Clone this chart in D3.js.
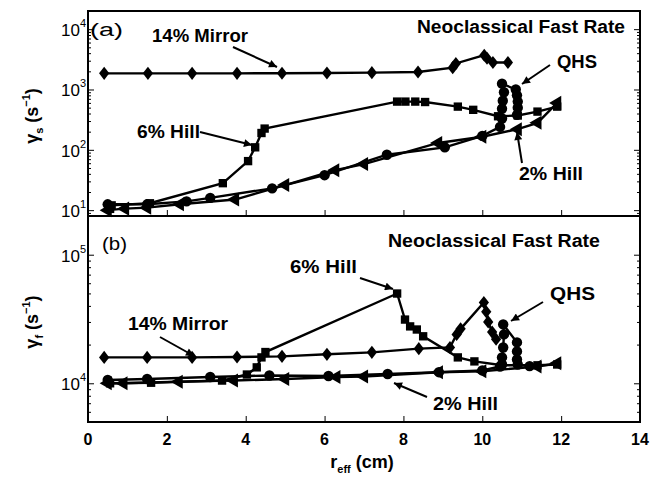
<!DOCTYPE html>
<html>
<head>
<meta charset="utf-8">
<script src="https://d3js.org/d3.v7.min.js"></script>
<style>
  body { margin: 0; background: #fff; }
  text { font-family: "Liberation Sans", Arial, Helvetica, sans-serif; fill: #000; }
</style>
</head>
<body>
<div id="chart"></div>
<script>
// ---- data: r_eff (cm) and rate (1/s) ----
// panel (a): gamma_s
var mirA_r = [0.41, 1.52, 2.64, 3.78, 4.92, 6.06, 7.2, 8.37, 9.25, 9.33, 10.05, 10.12, 10.27, 10.65];
var mirA_g = [1850, 1850, 1850, 1850, 1860, 1880, 1900, 1950, 2300, 2700, 3700, 3300, 2800, 2800];
var hill6A_r = [0.56, 0.6, 1.57, 3.42, 4.06, 4.24, 4.4, 4.48, 7.84, 8.05, 8.3, 8.55, 9.38, 9.77, 10.4, 10.9, 11.4, 11.9];
var hill6A_g = [10.5, 12, 13, 28, 65, 110, 190, 225, 630, 630, 630, 620, 520, 460, 360, 370, 430, 520];
var qhsA_r = [0.5, 1.5, 2.5, 3.1, 4.67, 6.0, 7.58, 9.05, 10.0, 10.45, 10.5, 10.5, 10.52, 10.55, 10.5, 10.85, 10.88, 10.9, 10.9, 10.88];
var qhsA_g = [12.5, 12.5, 14, 16, 23, 38, 83, 110, 170, 240, 330, 480, 650, 900, 1250, 1000, 800, 630, 500, 380];
var hill2A_r = [0.5, 0.94, 1.5, 2.33, 3.73, 5.0, 6.27, 7.0, 8.88, 10.0, 10.9, 11.4, 11.9];
var hill2A_g = [10, 10.6, 11, 12.5, 15, 26, 46, 58, 130, 165, 220, 280, 600];

// panel (b): gamma_f
var mirB_r = [0.41, 1.5, 2.64, 3.78, 4.92, 6.06, 7.2, 8.39, 9.18, 9.35, 9.45, 10.04, 10.1, 10.15, 10.25, 10.35];
var mirB_g = [15900, 15900, 15900, 16000, 16200, 16800, 17400, 18600, 19000, 24000, 26500, 42500, 36000, 30000, 25000, 22000];
var hill6B_r = [0.56, 1.6, 3.4, 4.03, 4.28, 4.4, 4.5, 7.84, 8.04, 8.17, 8.34, 8.5, 9.38, 9.8, 10.5, 11.4, 11.9];
var hill6B_g = [10000, 10100, 10500, 11700, 13300, 15900, 17500, 49900, 31300, 27700, 26200, 23200, 15900, 14800, 13800, 13800, 14000];
var qhsB_r = [0.5, 1.5, 3.1, 4.6, 6.1, 7.6, 8.9, 10.0, 10.45, 10.5, 10.5, 10.53, 10.55, 10.53, 10.88, 10.88, 10.88, 10.9, 11.2];
var qhsB_g = [10600, 10800, 11200, 11500, 11400, 11800, 12200, 12600, 13500, 14000, 15900, 19000, 24000, 28700, 20800, 17700, 15300, 14000, 13600];
var hill2B_r = [0.5, 0.9, 2.3, 3.7, 5.0, 6.3, 7.0, 8.9, 10.0, 11.4, 11.9];
var hill2B_g = [10000, 10000, 10300, 10500, 10800, 11200, 11300, 12200, 12400, 13500, 14300];

var xTicks = [0, 2, 4, 6, 8, 10, 12, 14];
var yTicksA = [10, 100, 1000, 10000];
var yTicksB = [10000, 100000];

var W = 652, H = 480;
var left = 88, right = 640;
var svg = d3.select("#chart").append("svg").attr("width", W).attr("height", H);

var x = d3.scaleLinear().domain([0, 14]).range([left, right]);

// squat diamond like the matlab marker
var diamond = {
  draw: function (ctx, size) {
    var h = Math.sqrt(size) * 0.6, w = h * 0.78;
    ctx.moveTo(0, -h); ctx.lineTo(w, 0); ctx.lineTo(0, h); ctx.lineTo(-w, 0); ctx.closePath();
  }
};

// marker shapes per series
var shapes = {
  mirror: { type: diamond, size: 120, rot: 0 },
  hill6: { type: d3.symbolSquare, size: 70, rot: 0 },
  qhs: { type: d3.symbolCircle, size: 85, rot: 0 },
  hill2: { type: d3.symbolTriangle, size: 85, rot: -90 }
};

function minorTicks(lo, hi) {
  var out = [];
  for (var d = Math.pow(10, Math.floor(Math.log10(lo))); d < hi; d *= 10) {
    for (var k = 2; k <= 9; k++) {
      var v = k * d;
      if (v >= lo && v <= hi) out.push(v);
    }
  }
  return out;
}

function panel(top, bottom, domain, majors, series) {
  var y = d3.scaleLog().domain(domain).range([bottom, top]);
  var g = svg.append("g");

  // lines and markers
  series.forEach(function (s) {
    var pts = s.r.map(function (d, i) { return [d, s.g[i]]; });
    g.append("path")
      .attr("d", d3.line().x(function (d) { return x(d[0]); }).y(function (d) { return y(d[1]); })(pts))
      .attr("fill", "none").attr("stroke", "#000").attr("stroke-width", 2.4);
    var sh = shapes[s.kind];
    g.selectAll(null).data(pts).enter().append("path")
      .attr("d", d3.symbol().type(sh.type).size(sh.size))
      .attr("transform", function (d) { return "translate(" + x(d[0]) + "," + y(d[1]) + ") rotate(" + sh.rot + ")"; })
      .attr("fill", "#000");
  });

  // y axes, ticks pointing inward, left and right
  var minors = minorTicks(domain[0], domain[1]);
  g.append("g").attr("transform", "translate(" + left + ",0)")
    .call(d3.axisLeft(y).tickValues(minors).tickSize(-3).tickFormat(""))
    .call(function (a) { a.select(".domain").remove(); });
  g.append("g").attr("transform", "translate(" + right + ",0)")
    .call(d3.axisRight(y).tickValues(minors).tickSize(-3).tickFormat(""))
    .call(function (a) { a.select(".domain").remove(); });
  g.append("g").attr("transform", "translate(" + right + ",0)")
    .call(d3.axisRight(y).tickValues(majors).tickSize(-6).tickFormat(""))
    .call(function (a) { a.select(".domain").remove(); });
  g.append("g").attr("transform", "translate(" + left + ",0)")
    .call(d3.axisLeft(y).tickValues(majors).tickSize(-6).tickFormat(""))
    .call(function (a) { a.select(".domain").remove(); });

  // 10^n labels
  majors.forEach(function (v) {
    var t = g.append("text").attr("x", 86).attr("y", y(v) + 7)
      .attr("text-anchor", "end").style("font-size", "17px");
    t.append("tspan").text("10");
    t.append("tspan").attr("dy", -9).style("font-size", "11px").text(Math.round(Math.log10(v)));
  });

  // x ticks on the lower edge, inward
  g.append("g").attr("transform", "translate(0," + bottom + ")")
    .call(d3.axisBottom(x).tickValues(xTicks).tickSize(-6).tickFormat(""))
    .call(function (a) { a.select(".domain").remove(); });

  // frame
  g.append("rect").attr("x", left).attr("y", top).attr("width", right - left).attr("height", bottom - top)
    .attr("fill", "none").attr("stroke", "#000").attr("stroke-width", 2);
  return y;
}

panel(11, 216, [8, 20000], yTicksA, [
  { kind: "mirror", r: mirA_r, g: mirA_g },
  { kind: "hill6", r: hill6A_r, g: hill6A_g },
  { kind: "qhs", r: qhsA_r, g: qhsA_g },
  { kind: "hill2", r: hill2A_r, g: hill2A_g }
]);
panel(216, 422, [5000, 200000], yTicksB, [
  { kind: "mirror", r: mirB_r, g: mirB_g },
  { kind: "hill6", r: hill6B_r, g: hill6B_g },
  { kind: "qhs", r: qhsB_r, g: qhsB_g },
  { kind: "hill2", r: hill2B_r, g: hill2B_g }
]);

// x tick labels
svg.append("g").selectAll("text").data(xTicks).enter().append("text")
  .attr("x", function (d) { return x(d); }).attr("y", 445)
  .attr("text-anchor", "middle").style("font-size", "16px").style("font-weight", "bold")
  .text(function (d) { return d; });

// x label
var xl = svg.append("text").attr("x", 362).attr("y", 468).attr("text-anchor", "middle")
  .style("font-size", "18px").style("font-weight", "bold");
xl.append("tspan").text("r");
xl.append("tspan").attr("dy", 5).style("font-size", "11px").text("eff");
xl.append("tspan").attr("dy", -5).text(" (cm)");

// y labels
function yLabel(cy, sub) {
  var t = svg.append("text").attr("transform", "translate(38," + cy + ") rotate(-90)")
    .attr("text-anchor", "middle").style("font-size", "18px").style("font-weight", "bold");
  t.append("tspan").text("γ");
  t.append("tspan").attr("dy", 5).style("font-size", "11px").text(sub);
  t.append("tspan").attr("dy", -5).text(" (s");
  t.append("tspan").attr("dy", -8).style("font-size", "11px").text("−1");
  t.append("tspan").attr("dy", 8).text(")");
}
yLabel(116, "s");
yLabel(322, "f");

// annotations
svg.append("defs").append("marker").attr("id", "ah")
  .attr("viewBox", "0 0 10 10").attr("refX", 10).attr("refY", 5)
  .attr("markerWidth", 5).attr("markerHeight", 4).attr("markerUnits", "strokeWidth")
  .attr("orient", "auto")
  .append("path").attr("d", "M0,0 L10,5 L0,10 z").attr("fill", "#000");

var labels = [
  ["(a)", 90, 36, 33, 18, "normal"],
  ["14% Mirror", 152, 42, 96, 18, "bold"],
  ["Neoclassical Fast Rate", 417, 33, 208, 18, "bold"],
  ["6% Hill", 137, 138, 63, 18, "bold"],
  ["QHS", 557, 68, 40, 18, "bold"],
  ["2% Hill", 519, 180, 64, 18, "bold"],
  ["(b)", 102, 250, 25, 18, "normal"],
  ["Neoclassical Fast Rate", 388, 247, 212, 18, "bold"],
  ["14% Mirror", 128, 330, 100, 18, "bold"],
  ["6% Hill", 290, 273, 67, 18, "bold"],
  ["QHS", 550, 300, 45, 18, "bold"],
  ["2% Hill", 433, 410, 65, 18, "bold"]
];
labels.forEach(function (l) {
  svg.append("text").attr("x", l[1]).attr("y", l[2])
    .attr("textLength", l[3]).attr("lengthAdjust", "spacingAndGlyphs")
    .style("font-size", l[4] + "px").style("font-weight", l[5]).text(l[0]);
});

var arrows = [
  [233, 47, 277, 67], [200, 132, 252, 145], [550, 65, 522, 84], [522, 163, 517, 132],
  [160, 337, 194, 356], [360, 278, 393, 289], [543, 302, 511, 321], [427, 397, 394, 383]
];
arrows.forEach(function (a) {
  svg.append("line").attr("x1", a[0]).attr("y1", a[1]).attr("x2", a[2]).attr("y2", a[3])
    .attr("stroke", "#000").attr("stroke-width", 2).attr("marker-end", "url(#ah)");
});
</script>
</body>
</html>
